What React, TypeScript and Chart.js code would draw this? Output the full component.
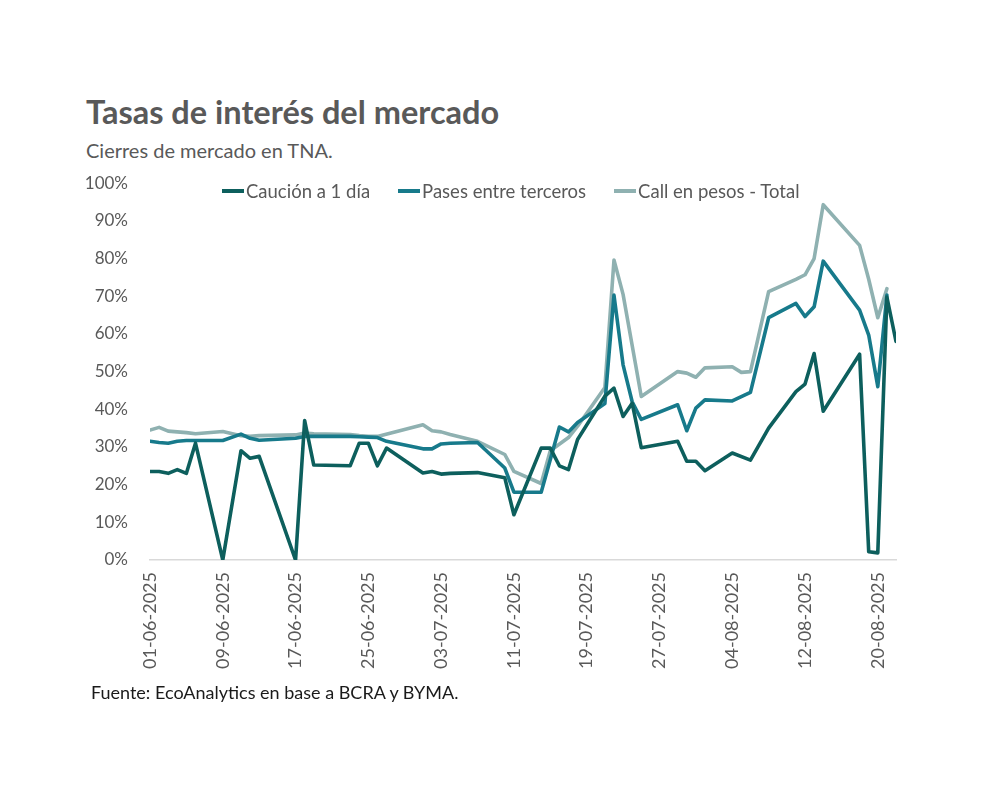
import React, { useEffect, useRef } from "react";
import { Chart, registerables } from "chart.js";

Chart.register(...registerables);

const FONT = "Lato, 'Open Sans', sans-serif";
const GREY = "#595959";

const title = "Tasas de interés del mercado";
const subtitle = "Cierres de mercado en TNA.";
const source = "Fuente: EcoAnalytics en base a BCRA y BYMA.";

const seriesNames = ["Caución a 1 día", "Pases entre terceros", "Call en pesos - Total"];
const seriesColors = ["#0d5f5d", "#177a8b", "#8fb1b1"];

// Axis range and tick spacing (days)
const axisStart = "01-06-2025";
const axisEnd = "22-08-2025";
const tickStepDays = 8;
const yTickValues = [0, 10, 20, 30, 40, 50, 60, 70, 80, 90, 100];

// Market closing dates
const dates = [
  "01-06-2025", "02-06-2025", "03-06-2025", "04-06-2025", "05-06-2025", "06-06-2025",
  "09-06-2025", "10-06-2025", "11-06-2025", "12-06-2025", "13-06-2025",
  "17-06-2025", "18-06-2025", "19-06-2025",
  "23-06-2025", "24-06-2025", "25-06-2025", "26-06-2025", "27-06-2025",
  "30-06-2025", "01-07-2025", "02-07-2025", "03-07-2025", "04-07-2025",
  "07-07-2025", "08-07-2025", "10-07-2025", "11-07-2025",
  "14-07-2025", "15-07-2025", "16-07-2025", "17-07-2025", "18-07-2025",
  "21-07-2025", "22-07-2025", "23-07-2025", "24-07-2025", "25-07-2025",
  "28-07-2025", "29-07-2025", "30-07-2025", "31-07-2025", "01-08-2025",
  "04-08-2025", "05-08-2025", "06-08-2025", "07-08-2025", "08-08-2025",
  "11-08-2025", "12-08-2025", "13-08-2025", "14-08-2025",
  "18-08-2025", "19-08-2025", "20-08-2025", "21-08-2025", "22-08-2025",
];

// TNA (%) per date; null = no close published that day
const caucion = [
  23.5, 23.5, 23, 24, 23, 31,
  0, null, 29, 27, 27.5,
  0, 37, 25.2,
  25, 31, 31, 25, 29.7,
  null, 23.1, 23.5, 22.8, 23,
  23.2, null, 21.8, 12,
  29.7, 29.7, 25, 24, 32,
  43.5, 45.6, 38.1, 41.6, 29.8,
  null, 31.5, 26.2, 26.2, 23.7,
  28.4, null, 26.5, null, 35,
  44.7, 46.7, 54.8, 39.5,
  54.6, 2.2, 1.9, 69.8, 58,
];

const pases = [
  31.5, 31.2, 31, 31.5, 31.7, 31.7,
  31.7, null, 33.4, 32.3, 31.8,
  32.3, 32.8, 32.8,
  32.8, 32.7, 32.6, 32.5, 31.5,
  null, 29.5, 29.5, 30.8, 31,
  31.2, null, 24.4, 18,
  18, null, 35.3, 34, 36.5,
  41.5, 70.3, 51.8, 42, 37.3,
  null, 41.2, 34.3, 40.3, 42.5,
  42.2, null, 44.5, null, 64.3,
  68.1, 64.6, 67.2, 79.3,
  66.3, 59.7, 46, 70.3, null,
];

const call = [
  34.5, 35.2, 34.2, 34, 33.8, 33.5,
  34.1, null, 33, 32.8, 33,
  33.2, 33.7, 33.5,
  33.3, 33, 32.8, 32.8, null,
  null, 35.9, 34.3, 34, 33.3,
  31.5, null, 28, 23.5,
  20.3, 29, null, 32.5, 35.5,
  45.8, 79.6, 70.5, null, 43.4,
  null, 50, 49.6, 48.5, 51,
  51.3, 49.8, 50, null, 71.2,
  74.5, 75.7, 80, 94.3,
  83.5, 74.5, 64.3, 72, null,
];

const DAY = 86400000;
const parseDate = (s: string) => {
  const [d, m, y] = s.split("-").map(Number);
  return Date.UTC(y, m - 1, d);
};
const startMs = parseDate(axisStart);
const dayIndex = (s: string) => Math.round((parseDate(s) - startMs) / DAY);
const formatDay = (n: number) => {
  const dt = new Date(startMs + n * DAY);
  const dd = String(dt.getUTCDate()).padStart(2, "0");
  const mm = String(dt.getUTCMonth() + 1).padStart(2, "0");
  return `${dd}-${mm}-${dt.getUTCFullYear()}`;
};

const toPoints = (values: (number | null)[]) =>
  dates.map((d, i) => ({ x: dayIndex(d), y: values[i] }));

const seriesValues = [caucion, pases, call];

function RatesChart() {
  const ref = useRef<HTMLCanvasElement | null>(null);

  useEffect(() => {
    if (!ref.current) return;
    const chart = new Chart(ref.current, {
      type: "line",
      data: {
        datasets: seriesNames.map((name, i) => ({
          label: name,
          data: toPoints(seriesValues[i]),
          borderColor: seriesColors[i],
          backgroundColor: seriesColors[i],
          borderWidth: 3.6,
          pointRadius: 0,
          tension: 0,
          spanGaps: true,
          borderJoinStyle: "round" as const,
          borderCapStyle: "round" as const,
        })),
      },
      options: {
        responsive: false,
        animation: false,
        layout: { padding: { top: 11, right: 24, left: 0, bottom: 0 } },
        plugins: {
          legend: { display: false },
          tooltip: { enabled: false },
        },
        scales: {
          x: {
            type: "linear",
            min: 0,
            max: dayIndex(axisEnd),
            grid: { display: false, drawTicks: false },
            border: { display: true, color: "#d9d9d9", width: 1.5 },
            ticks: {
              stepSize: tickStepDays,
              includeBounds: false,
              autoSkip: false,
              minRotation: 90,
              maxRotation: 90,
              padding: 12,
              color: GREY,
              font: { family: FONT, size: 18 },
              callback: (v) => formatDay(Number(v)),
            },
            afterFit: (s) => {
              s.height = 141;
            },
          },
          y: {
            min: 0,
            max: 100,
            grid: { display: false, drawTicks: false },
            border: { display: false },
            afterBuildTicks: (s) => {
              s.ticks = yTickValues.map((v) => ({ value: v }));
            },
            ticks: {
              padding: 22,
              color: GREY,
              font: { family: FONT, size: 17 },
              callback: (v) => `${v}%`,
            },
            afterFit: (s) => {
              s.width = 90;
            },
          },
        },
      },
    });
    return () => chart.destroy();
  }, []);

  return (
    <canvas
      ref={ref}
      width={860}
      height={550}
      style={{ position: "absolute", left: 60, top: 151, width: 860, height: 550 }}
    />
  );
}

export default function App() {
  return (
    <div
      style={{
        position: "absolute",
        left: 0,
        top: 0,
        width: 992,
        height: 801,
        background: "#ffffff",
        fontFamily: FONT,
        overflow: "hidden",
      }}
    >
      <div
        style={{
          position: "absolute",
          left: 86,
          top: 96,
          fontSize: 32.5,
          fontWeight: 700,
          lineHeight: 1,
          color: GREY,
          whiteSpace: "nowrap",
        }}
      >
        {title}
      </div>
      <div
        style={{
          position: "absolute",
          left: 86,
          top: 140,
          fontSize: 20,
          lineHeight: 1,
          color: GREY,
          whiteSpace: "nowrap",
        }}
      >
        {subtitle}
      </div>
      <RatesChart />
      <div
        style={{
          position: "absolute",
          left: 222,
          top: 182,
          display: "flex",
          alignItems: "center",
          fontSize: 18.5,
          lineHeight: 1,
          color: GREY,
          whiteSpace: "nowrap",
        }}
      >
        {seriesNames.map((name, i) => (
          <div key={name} style={{ display: "flex", alignItems: "center", marginRight: 28 }}>
            <span
              style={{
                display: "inline-block",
                width: 22,
                height: 4,
                background: seriesColors[i],
                marginRight: 2,
              }}
            />
            <span>{name}</span>
          </div>
        ))}
      </div>
      <div
        style={{
          position: "absolute",
          left: 91,
          top: 683,
          fontSize: 18,
          lineHeight: 1,
          color: "#1a1a1a",
          whiteSpace: "nowrap",
        }}
      >
        {source}
      </div>
    </div>
  );
}
